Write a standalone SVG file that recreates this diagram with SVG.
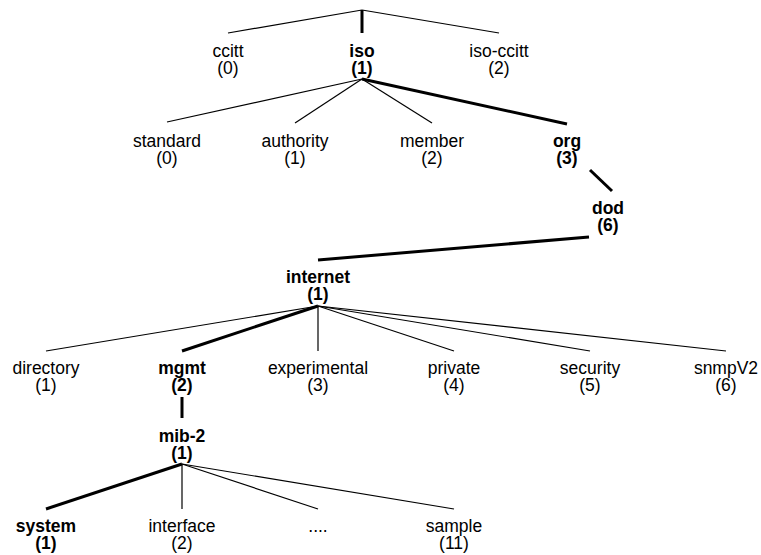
<svg xmlns="http://www.w3.org/2000/svg" width="761" height="555" viewBox="0 0 761 555">
  <style>
    text { font-family: "Liberation Sans", Arial, Helvetica, sans-serif; font-size: 17.5px; fill: #000; text-anchor: middle; }
    .b { font-weight: bold; }
    .edge { stroke: #000; stroke-width: 1.2; fill: none; stroke-linecap: butt; }
    .path { stroke: #000; stroke-width: 3; fill: none; stroke-linecap: butt; }
  </style>
  <rect width="761" height="555" fill="#fff"/>

  <!-- connectors -->
  <g id="connectors">
    <line class="edge" x1="362" y1="10" x2="228" y2="33"/>
    <line class="path" x1="362" y1="10" x2="362" y2="33"/>
    <line class="edge" x1="362" y1="10" x2="499" y2="33"/>

    <line class="edge" x1="362" y1="79" x2="167" y2="122"/>
    <line class="edge" x1="362" y1="79" x2="295" y2="123"/>
    <line class="edge" x1="362" y1="79" x2="432" y2="123"/>
    <line class="path" x1="362" y1="79" x2="567" y2="124"/>

    <line class="path" x1="590" y1="170" x2="612" y2="191"/>
    <line class="path" x1="589" y1="237" x2="318" y2="260"/>

    <line class="edge" x1="318" y1="306" x2="46" y2="351"/>
    <line class="path" x1="318" y1="306" x2="182" y2="351"/>
    <line class="edge" x1="318" y1="306" x2="318" y2="351"/>
    <line class="edge" x1="318" y1="306" x2="454" y2="351"/>
    <line class="edge" x1="318" y1="306" x2="590" y2="351"/>
    <line class="edge" x1="318" y1="306" x2="726" y2="351"/>

    <line class="path" x1="182" y1="397" x2="182" y2="418"/>

    <line class="path" x1="182" y1="464" x2="46" y2="509"/>
    <line class="edge" x1="182" y1="464" x2="182" y2="509"/>
    <line class="edge" x1="182" y1="464" x2="318" y2="509"/>
    <line class="edge" x1="182" y1="464" x2="454" y2="509"/>
  </g>

  <!-- nodes -->
  <g id="ccitt"><text x="228" y="57">ccitt</text><text x="228" y="74">(0)</text></g>
  <g id="iso"><text class="b" x="362" y="57">iso</text><text class="b" x="362" y="74">(1)</text></g>
  <g id="iso-ccitt"><text x="499" y="57">iso-ccitt</text><text x="499" y="74">(2)</text></g>

  <g id="standard"><text x="167" y="147">standard</text><text x="167" y="164">(0)</text></g>
  <g id="authority"><text x="295" y="147">authority</text><text x="295" y="164">(1)</text></g>
  <g id="member"><text x="432" y="147">member</text><text x="432" y="164">(2)</text></g>
  <g id="org"><text class="b" x="567" y="147">org</text><text class="b" x="567" y="164">(3)</text></g>

  <g id="dod"><text class="b" x="608" y="214">dod</text><text class="b" x="608" y="231">(6)</text></g>

  <g id="internet"><text class="b" x="318" y="283">internet</text><text class="b" x="318" y="300">(1)</text></g>

  <g id="directory"><text x="46" y="374">directory</text><text x="46" y="391">(1)</text></g>
  <g id="mgmt"><text class="b" x="182" y="374">mgmt</text><text class="b" x="182" y="391">(2)</text></g>
  <g id="experimental"><text x="318" y="374">experimental</text><text x="318" y="391">(3)</text></g>
  <g id="private"><text x="454" y="374">private</text><text x="454" y="391">(4)</text></g>
  <g id="security"><text x="590" y="374">security</text><text x="590" y="391">(5)</text></g>
  <g id="snmpV2"><text x="726" y="374">snmpV2</text><text x="726" y="391">(6)</text></g>

  <g id="mib-2"><text class="b" x="182" y="442">mib-2</text><text class="b" x="182" y="459">(1)</text></g>

  <g id="system"><text class="b" x="46" y="532">system</text><text class="b" x="46" y="549">(1)</text></g>
  <g id="interface"><text x="182" y="532">interface</text><text x="182" y="549">(2)</text></g>
  <g id="more"><text x="318" y="532">....</text></g>
  <g id="sample"><text x="454" y="532">sample</text><text x="454" y="549">(11)</text></g>
</svg>
